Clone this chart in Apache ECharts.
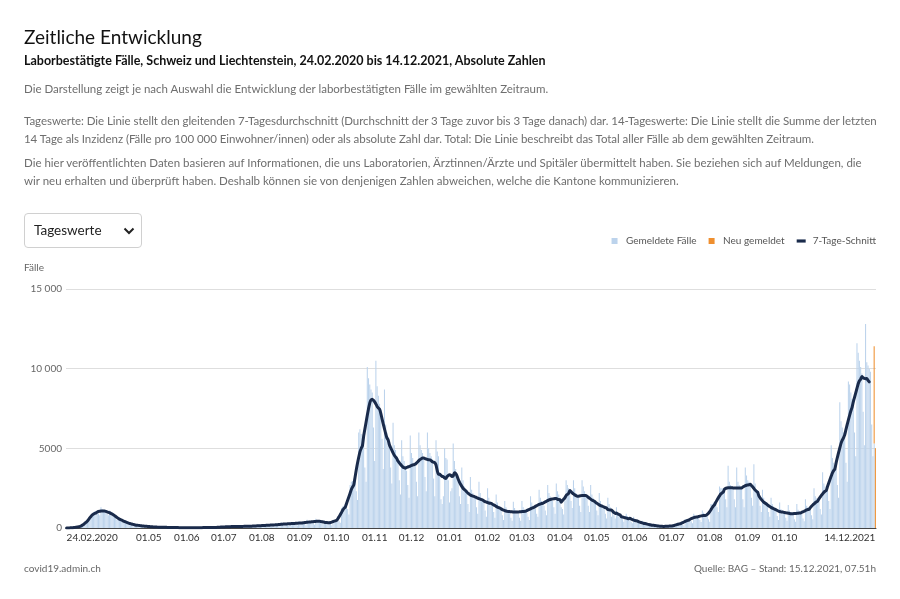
<!DOCTYPE html>
<html lang="de">
<head>
<meta charset="utf-8">
<title>Zeitliche Entwicklung</title>
<script src="https://cdn.jsdelivr.net/npm/echarts@6/dist/echarts.min.js"></script>
<style>
  html, body { margin:0; padding:0; background:#fff; }
  body { width:900px; height:599px; position:relative; overflow:hidden; font-family: Lato, "Noto Sans", sans-serif; }
  #chart { position:absolute; left:0; top:0; width:900px; height:599px; }
  .t { position:absolute; left:24px; white-space:nowrap; }
  #title { top:25px; font-size:19px; line-height:24px; color:#111; }
  #sub { top:52px; font-size:12.5px; line-height:18px; color:#111; font-weight:700; }
  .p { font-size:11.5px; line-height:18px; color:#6e6e6e; }
  #p1 { top:80px; }
  #p2 { top:112px; letter-spacing:-0.05px; }
  #p3 { top:154px; }
  #dd { position:absolute; left:24px; top:213px; width:118px; height:35px; border:1px solid #d0d0d0; border-radius:4px; box-sizing:border-box; }
  #dd span { position:absolute; left:9px; top:8px; font-size:13.5px; color:#222; }
  #dd svg { position:absolute; left:98px; top:13px; }
  #faelle { top:261px; font-size:10px; color:#666; }
  #src1 { top:562px; font-size:10px; color:#666; }
  #src2 { top:562px; left:auto; right:24px; font-size:10px; color:#666; }
</style>
</head>
<body>
<div id="chart"></div>
<div class="t" id="title">Zeitliche Entwicklung</div>
<div class="t" id="sub">Laborbestätigte Fälle, Schweiz und Liechtenstein, 24.02.2020 bis 14.12.2021, Absolute Zahlen</div>
<div class="t p" id="p1">Die Darstellung zeigt je nach Auswahl die Entwicklung der laborbestätigten Fälle im gewählten Zeitraum.</div>
<div class="t p" id="p2">Tageswerte: Die Linie stellt den gleitenden 7-Tagesdurchschnitt (Durchschnitt der 3 Tage zuvor bis 3 Tage danach) dar. 14-Tageswerte: Die Linie stellt die Summe der letzten<br>14 Tage als Inzidenz (Fälle pro 100 000 Einwohner/innen) oder als absolute Zahl dar. Total: Die Linie beschreibt das Total aller Fälle ab dem gewählten Zeitraum.</div>
<div class="t p" id="p3">Die hier veröffentlichten Daten basieren auf Informationen, die uns Laboratorien, Ärztinnen/Ärzte und Spitäler übermittelt haben. Sie beziehen sich auf Meldungen, die<br>wir neu erhalten und überprüft haben. Deshalb können sie von denjenigen Zahlen abweichen, welche die Kantone kommunizieren.</div>
<div id="dd"><span>Tageswerte</span><svg width="12" height="8" viewBox="0 0 12 8"><polyline points="1.5,1.5 6,6 10.5,1.5" fill="none" stroke="#222" stroke-width="2"/></svg></div>
<div class="t" id="faelle">Fälle</div>
<div class="t" id="src1">covid19.admin.ch</div>
<div class="t" id="src2">Quelle: BAG – Stand: 15.12.2021, 07.51h</div>
<script>
// ---- data (daily laboratory-confirmed cases, from 24.02.2020, one row per week Mon..Sun) ----
const startDate = '2020-02-24';
const gemeldeteFaelle = [
  0,1,2,5,10,15,20,
  35,50,60,90,110,100,120,
  200,280,370,480,560,600,620,
  900,1000,1050,1000,1000,900,800,
  1300,1200,1150,1100,1050,900,800,
  1100,1000,950,900,800,600,500,
  700,600,550,500,450,350,300,
  400,350,300,280,250,180,150,
  230,200,180,160,150,110,90,
  150,120,110,100,90,70,60,
  90,70,65,60,55,40,35,
  60,55,50,45,40,30,25,
  40,35,30,30,30,25,20,
  30,25,20,20,18,12,10,
  25,22,20,20,20,18,15,
  30,25,22,22,20,18,15,
  35,30,30,28,28,22,20,
  50,45,45,40,40,30,25,
  90,80,75,70,70,55,45,
  120,105,100,95,90,70,50,
  135,115,110,105,100,80,55,
  150,125,120,115,110,90,60,
  190,160,155,145,140,110,80,
  230,195,185,180,170,135,95,
  270,230,220,210,200,160,110,
  340,290,275,260,250,200,140,
  380,320,310,295,280,225,155,
  430,370,350,335,320,255,175,
  510,440,420,400,380,305,210,
  580,495,475,450,430,345,235,
  450,380,365,345,330,265,180,
  480,470,500,540,580,420,330,
  1250,1350,1400,1500,1600,1200,850,
  2700,2900,2950,3100,3200,2300,1750,
  6000,6200,5900,5700,5600,3800,2900,
  10100,9400,9000,8700,8500,6300,4200,
  10500,8900,8300,7800,7400,5600,3700,
  8700,6500,6000,5700,5200,3800,2800,
  6600,5200,4900,4500,4200,3000,2100,
  5500,4500,4200,3900,3600,2700,1900,
  5800,4700,4400,4100,3900,2900,2000,
  6000,5200,4900,4700,4400,3200,2300,
  6000,5000,4700,4500,4300,3100,2000,
  5500,4800,4500,3500,1800,1500,2000,
  5000,4400,4300,3000,1600,2300,2500,
  5300,4200,3700,3300,3000,2000,1500,
  3800,3000,2600,2400,2200,1500,1000,
  3200,2400,2200,2000,1900,1300,900,
  2900,2200,1900,1800,1700,1100,700,
  2500,1900,1700,1600,1500,1000,650,
  2100,1600,1400,1250,1150,800,500,
  1700,1300,1150,1050,950,650,450,
  1650,1250,1100,1000,900,650,450,
  1700,1300,1150,1050,950,700,500,
  2000,1600,1400,1300,1200,900,700,
  2400,1900,1700,1550,1400,1100,800,
  2700,2200,2000,1850,1700,1300,900,
  2800,2300,2100,1900,1300,1200,850,
  1700,3000,2700,2500,2300,1700,1250,
  3000,2500,2200,2000,1900,1400,1000,
  3000,2600,2300,2100,1900,1400,1000,
  2700,2100,1900,1700,1500,1100,800,
  2200,1700,1500,1350,1200,900,600,
  1900,1500,1300,700,1100,800,600,
  1300,1000,900,850,750,550,400,
  500,900,750,650,600,400,300,
  700,550,500,450,400,280,200,
  450,330,300,270,250,170,120,
  270,200,180,165,150,100,75,
  170,120,110,100,90,60,45,
  180,150,140,130,120,80,60,
  300,300,300,300,300,220,160,
  550,550,550,560,580,420,300,
  900,800,780,760,740,500,370,
  1100,950,900,850,800,550,400,
  1500,1500,1600,1650,1700,1300,1000,
  2600,2500,2500,2500,2500,1800,1300,
  3900,2900,2700,2600,2500,1800,1300,
  3800,2900,2700,2600,2500,1800,1300,
  3800,3300,3000,2900,2700,1900,1400,
  4000,2800,2400,2200,2000,1400,1000,
  2400,1900,1700,1550,1400,1000,700,
  1900,1500,1350,1200,1100,750,500,
  1600,1200,1100,1000,950,650,450,
  1450,1100,1000,900,850,550,400,
  1500,1150,1050,950,900,600,420,
  1800,1400,1300,1250,1150,800,550,
  2500,2000,1850,1750,1650,1200,850,
  3500,2800,2600,2400,2300,1700,1200,
  5200,4400,4100,3900,3700,2700,1900,
  7900,6700,6300,6000,5700,4100,2900,
  9200,9000,8500,8100,7700,6000,4500,
  11600,11000,10500,10100,9700,7300,5200,
  12800,10400,10200,10000,9800,6500,4500,
  5300,0
];
// newly reported cases (stacked on top), last days only
const neuGemeldetDates = ['2021-12-13','2021-12-14'];
const neuGemeldetValues = [6100, 5000];
// x-axis tick labels
const tickDates = ['2020-02-24','2020-05-01','2020-06-01','2020-07-01','2020-08-01','2020-09-01','2020-10-01','2020-11-01','2020-12-01','2021-01-01','2021-02-01','2021-03-01','2021-04-01','2021-05-01','2021-06-01','2021-07-01','2021-08-01','2021-09-01','2021-10-01','2021-12-14'];
const tickLabels = ['24.02.2020','01.05','01.06','01.07','01.08','01.09','01.10','01.11','01.12','01.01','01.02','01.03','01.04','01.05','01.06','01.07','01.08','01.09','01.10','14.12.2021'];
// y-axis
const yMax = 15000, yStep = 5000;

// ---- build ----
const n = gemeldeteFaelle.length;
const t0 = Date.parse(startDate + 'T00:00:00Z');
const dates = [];
for (let i = 0; i < n; i++) dates.push(new Date(t0 + i * 86400000).toISOString().slice(0, 10));
const neu = dates.map(d => { const k = neuGemeldetDates.indexOf(d); return k >= 0 ? neuGemeldetValues[k] : 0; });
const total = gemeldeteFaelle.map((v, i) => v + neu[i]);
// centered 7-day average (3 days before to 3 days after); the incomplete last days are left out
const avg = total.map((v, i) => {
  if (i > n - 6) return null;
  let s = 0, c = 0;
  for (let j = Math.max(0, i - 3); j <= Math.min(n - 1, i + 3); j++) { s += total[j]; c++; }
  return Math.round(s / c);
});
const labelMap = {};
tickDates.forEach((d, i) => labelMap[d] = tickLabels[i]);

const chart = echarts.init(document.getElementById('chart'), null, { renderer: 'canvas' });
const font = 'Lato, "Noto Sans", sans-serif';
chart.setOption({
  animation: false,
  textStyle: { fontFamily: font },
  legend: {
    right: 24, top: 236, padding: 0,
    itemWidth: 9, itemHeight: 6, itemGap: 12,
    textStyle: { fontSize: 10, color: '#555', fontFamily: font, padding: [0, 0, 0, 2] },
    selectedMode: false,
    data: [
      { name: 'Gemeldete Fälle', icon: 'path://M0,0H10V10H0Z' },
      { name: 'Neu gemeldet', icon: 'path://M0,0H10V10H0Z' },
      { name: '7-Tage-Schnitt', icon: 'path://M0,0H10V3.5H0Z' }
    ]
  },
  grid: { left: 66, right: 24, top: 289, bottom: 71, containLabel: false },
  xAxis: {
    type: 'category',
    data: dates,
    boundaryGap: true,
    axisLine: { lineStyle: { color: '#444', width: 1 } },
    axisTick: { alignWithLabel: true, length: 4, lineStyle: { color: '#444' },
      interval: (idx, val) => labelMap[val] !== undefined },
    axisLabel: {
      interval: (idx, val) => labelMap[val] !== undefined,
      formatter: val => labelMap[val] || '',
      fontSize: 10, color: '#333', margin: 5, fontFamily: font,
      hideOverlap: false, showMinLabel: true, showMaxLabel: true,
      alignMinLabel: 'left', alignMaxLabel: 'right'
    },
    splitLine: { show: false }
  },
  yAxis: {
    type: 'value', min: 0, max: yMax, interval: yStep,
    axisLine: { show: false }, axisTick: { show: false },
    axisLabel: { fontSize: 10, color: '#666', margin: 4, fontFamily: font,
      formatter: v => v >= 10000 ? String(v).replace(/\B(?=(\d{3})+(?!\d))/g, ' ') : String(v) },
    splitLine: { lineStyle: { color: '#dedede', width: 1 } }
  },
  series: [
    { name: 'Gemeldete Fälle', type: 'bar', stack: 'f', data: gemeldeteFaelle,
      itemStyle: { color: '#bcd3ec' }, barCategoryGap: '15%' },
    { name: 'Neu gemeldet', type: 'bar', stack: 'f', data: neu,
      itemStyle: { color: '#ef8f2f' } },
    { name: '7-Tage-Schnitt', type: 'line', data: avg, showSymbol: false, smooth: 0.2,
      connectNulls: false,
      lineStyle: { color: '#1a2b4b', width: 3, join: 'round', cap: 'round' },
      itemStyle: { color: '#1a2b4b' } }
  ]
});
</script>
</body>
</html>
